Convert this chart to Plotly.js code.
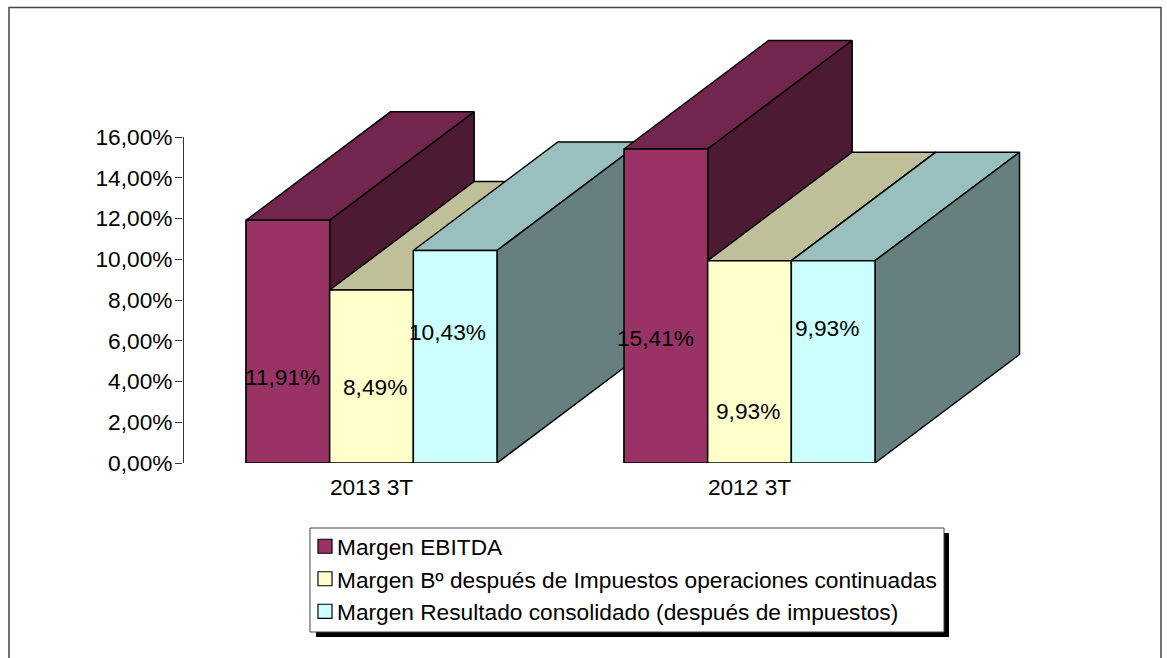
<!DOCTYPE html>
<html><head><meta charset="utf-8">
<script src="https://cdn.plot.ly/plotly-3.0.1.min.js"></script>
<style>html,body{margin:0;padding:0;background:#fff}#c{width:1167px;height:658px}</style>
</head><body><div id="c"></div>
<script>
const categories = ['2013 3T', '2012 3T'];
const seriesNames = ['Margen EBITDA', 'Margen Bº después de Impuestos operaciones continuadas', 'Margen Resultado consolidado (después de impuestos)'];
const ebitda = [11.91, 15.41];
const despuesImpuestos = [8.49, 9.93];
const consolidado = [10.43, 9.93];
const yTicks = [0, 2, 4, 6, 8, 10, 12, 14, 16];
const yTickLabels = ['0,00%', '2,00%', '4,00%', '6,00%', '8,00%', '10,00%', '12,00%', '14,00%', '16,00%'];

const seriesValues = [ebitda, despuesImpuestos, consolidado];
const frontColors = ['#993366', '#FFFFCC', '#CCFFFF'];
const topColors = ['#73264D', '#BFBF99', '#99BFBF'];
const sideColors = ['#4D1A33', '#808066', '#668080'];
// hand placement of the data labels: height in axis units, shift in pixels from the bar centre
const labelHeights = [[4.24, 6.13], [3.74, 2.55], [6.44, 6.62]];
const labelShifts = [[-5, -10], [3.5, -1.5], [-7.5, -6.5]];

const W = 1167, H = 658;
const L = 183, R = 1026, T = 30, B = 463;
const groupStep = 378, barPx = 83.67;
const xPerPx = 1 / groupStep, yPerPx = 16 / 326;
const depthX = 144.5 * xPerPx, depthY = 108.5 * yPerPx;
const barW = barPx * xPerPx;
const xRange = [(L - 371.5) * xPerPx, (R - 371.5) * xPerPx];
const yRange = [0, (B - T) * yPerPx];
const px = v => (v - L) / (R - L);
const py = v => (B - v) / (B - T);
const FONT = 'Liberation Sans, Arial, sans-serif';
const FS = 22.7;

const traces = [];
seriesValues.forEach((vals, s) => traces.push({
  type: 'bar', x: [0, 1], y: vals, name: seriesNames[s], legendgroup: 'g' + s,
  marker: {color: frontColors[s], line: {color: '#000', width: 1}},
  hoverinfo: 'skip'
}));
traces.push({type: 'scatter', mode: 'lines', x: [xRange[0], xRange[0]], y: [yTicks[0], yTicks[yTicks.length - 1]],
  line: {color: '#333', width: 2}, showlegend: false, cliponaxis: false, hoverinfo: 'skip'});
function poly(xs, ys, color) {
  traces.push({type: 'scatter', mode: 'lines', x: xs, y: ys, fill: 'toself', fillcolor: color,
    line: {color: '#000', width: 1.5}, showlegend: false, cliponaxis: false, hoverinfo: 'skip'});
}
categories.forEach((c, g) => {
  seriesValues.forEach((vals, s) => {
    const v = vals[g], a = g + (s - 1.5) * barW, b = a + barW;
    poly([a, b, b + depthX, a + depthX, a], [v, v, v + depthY, v + depthY, v], topColors[s]);
    poly([b, b + depthX, b + depthX, b, b], [v, v + depthY, depthY, 0, v], sideColors[s]);
    poly([a, b, b, a, a], [0, 0, v, v, 0], frontColors[s]);
  });
});

const annotations = [];
seriesValues.forEach((vals, s) => vals.forEach((v, g) => annotations.push({
  xref: 'x', yref: 'y', x: g + (s - 1) * barW + labelShifts[s][g] * xPerPx, y: labelHeights[s][g],
  text: v.toFixed(2).replace('.', ',') + '%', showarrow: false,
  xanchor: 'center', yanchor: 'middle', font: {family: FONT, size: FS, color: '#000'}
})));

const layout = {
  width: W, height: H, autosize: false, showlegend: true,
  paper_bgcolor: '#fff', plot_bgcolor: 'rgba(0,0,0,0)',
  margin: {l: L, r: W - R, t: T, b: H - B, pad: 0, autoexpand: false},
  font: {family: FONT, size: FS, color: '#000'},
  barmode: 'group', bargap: 1 - 3 * barW, bargroupgap: 0,
  xaxis: {range: xRange, tickmode: 'array', tickvals: [0, 1], ticktext: categories, showline: false, showgrid: false,
    zeroline: false, ticks: 'outside', ticklen: 4, tickcolor: 'rgba(0,0,0,0)', tickfont: {family: FONT, size: FS, color: '#000'}},
  yaxis: {range: yRange, tickmode: 'array', tickvals: yTicks, ticktext: yTickLabels, showline: false,
    showgrid: false, zeroline: false, ticks: 'outside', ticklen: 7, tickcolor: '#333', tickwidth: 1, ticklabelstandoff: -2,
    tickfont: {family: FONT, size: FS, color: '#000'}},
  legend: {x: px(305), xanchor: 'left', y: py(525), yanchor: 'top', bgcolor: 'rgba(0,0,0,0)', borderwidth: 0,
    orientation: 'v', traceorder: 'normal', tracegroupgap: 7.5, font: {family: FONT, size: FS, color: '#000'}, itemclick: false, itemdoubleclick: false},
  shapes: [
    {type: 'rect', xref: 'paper', yref: 'paper', x0: px(9), x1: px(1161), y0: py(7.5), y1: py(700), line: {color: '#444', width: 1.5}, fillcolor: 'rgba(0,0,0,0)', layer: 'below'},
    {type: 'rect', xref: 'paper', yref: 'paper', x0: px(316), x1: px(949), y0: py(533), y1: py(637), line: {width: 0}, fillcolor: '#000', layer: 'below'},
    {type: 'rect', xref: 'paper', yref: 'paper', x0: px(310), x1: px(944), y0: py(528), y1: py(632), line: {color: '#444', width: 1}, fillcolor: '#fff', layer: 'below'}
  ],
  annotations: annotations
};
Plotly.newPlot('c', traces, layout, {displayModeBar: false, staticPlot: true}).then(() => {
  // Legend key and label sit closer together in the reference than Plotly's minimum item width allows.
  document.querySelectorAll('#c .legend .legendtext').forEach(t => {
    t.setAttribute('x', +t.getAttribute('x') - 8);
    t.querySelectorAll('tspan[x]').forEach(s => s.setAttribute('x', +s.getAttribute('x') - 8));
  });
  document.querySelectorAll('#c .legend .legendpoints path').forEach(p => {
    p.setAttribute('transform', (p.getAttribute('transform') || '') + ' scale(1.17)');
  });
});
</script></body></html>
